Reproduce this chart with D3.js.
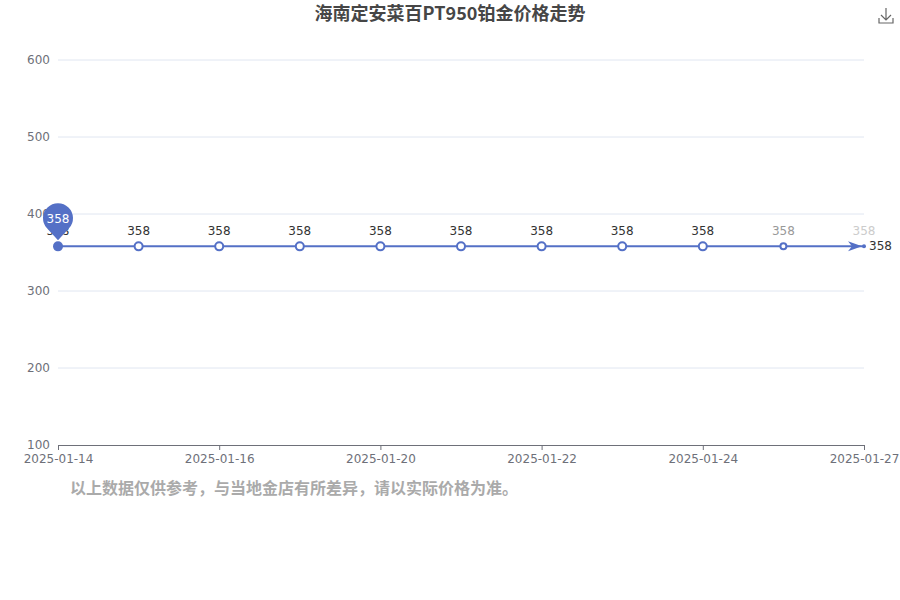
<!DOCTYPE html>
<html><head><meta charset="utf-8">
<script src="https://cdn.jsdelivr.net/npm/d3@7"></script>
<style>body{margin:0;background:#fff}svg{font-family:"Noto Sans CJK SC","DejaVu Sans",sans-serif}</style>
</head><body><div id="chart"></div>
<script>
const dates = ['2025-01-14','2025-01-15','2025-01-16','2025-01-17','2025-01-20','2025-01-21','2025-01-22','2025-01-23','2025-01-24','2025-01-26','2025-01-27']
const prices = [358,358,358,358,358,358,358,358,358,358,358]
const yTicks = [100,200,300,400,500,600]
const title = '海南定安菜百PT950铂金价格走势'
const note = '以上数据仅供参考，与当地金店有所差异，请以实际价格为准。'

const width = 900, height = 600
const blue = '#5470c6'
const mLeft = 58, mRight = 864, mTop = 60, mBottom = 445

const svg = d3.select('#chart').append('svg').attr('width', width).attr('height', height)

const x = d3.scalePoint().domain(dates).range([mLeft, mRight])
const y = d3.scaleLinear().domain([100, 600]).range([mBottom, mTop])

svg.append('text').attr('x', 450).attr('y', 20).attr('text-anchor', 'middle')
   .attr('font-size', 18).attr('font-weight', 'bold').attr('fill', '#464646').text(title)

// grid
svg.append('g').selectAll('line').data(yTicks.slice(1)).enter().append('line')
   .attr('x1', mLeft).attr('x2', mRight).attr('y1', d => y(d)).attr('y2', d => y(d))
   .attr('stroke', '#e0e6f1')

svg.append('g').selectAll('text').data(yTicks).enter().append('text')
   .attr('x', 50).attr('y', d => y(d) + 4).attr('text-anchor', 'end')
   .attr('font-size', 12).attr('fill', '#6e7079').attr('font-family', '"DejaVu Sans",sans-serif').text(d => d)

// x axis
const xAxis = d3.axisBottom(x).tickValues(dates.filter((d, i) => i % 2 === 0)).tickSize(5).tickPadding(4)
const gx = svg.append('g').attr('transform', `translate(0,${mBottom})`).call(xAxis)
gx.select('.domain').attr('stroke', '#6e7079')
gx.selectAll('line').attr('stroke', '#6e7079')
gx.selectAll('text').attr('fill', '#6e7079').attr('font-size', 12)
  .attr('font-family', '"DejaVu Sans",sans-serif')

// line
const line = d3.line().x((d, i) => x(dates[i])).y(d => y(d))
svg.append('path').attr('d', line(prices)).attr('fill', 'none').attr('stroke', blue).attr('stroke-width', 2)

// arrow at end
const ex = x(dates[dates.length - 1]), ey = y(prices[prices.length - 1])
svg.append('path').attr('d', `M${ex - 16},${ey - 5} L${ex - 2},${ey} L${ex - 16},${ey + 5} L${ex - 12},${ey} Z`).attr('fill', blue)

// points
svg.append('g').selectAll('circle').data(prices).enter().append('circle')
   .attr('cx', (d, i) => x(dates[i])).attr('cy', d => y(d))
   .attr('r', (d, i) => i === 0 ? 5 : i === prices.length - 1 ? 2 : i === prices.length - 2 ? 3 : 4)
   .attr('fill', (d, i) => i === 0 || i === prices.length - 1 ? blue : '#fff')
   .attr('stroke', blue).attr('stroke-width', (d, i) => i === 0 || i === prices.length - 1 ? 0 : 2)

svg.append('g').selectAll('text').data(prices).enter().append('text')
   .attr('x', (d, i) => x(dates[i])).attr('y', d => y(d) - 11).attr('text-anchor', 'middle')
   .attr('font-size', 12)
   .attr('fill', (d, i) => i === prices.length - 1 ? '#ccc' : i === prices.length - 2 ? '#999' : '#333')
   .attr('font-family', '"DejaVu Sans",sans-serif').text(d => d)

svg.append('text').attr('x', ex + 5).attr('y', ey + 4).attr('font-size', 12).attr('fill', '#333')
   .attr('font-family', '"DejaVu Sans",sans-serif').text(prices[prices.length - 1])

// pin marker at first point
const px = x(dates[0]), py = y(prices[0])
svg.append('path')
   .attr('d', `M${px},${py - 6} L${px - 11},${py - 18} A15,15 0 1 1 ${px + 11},${py - 18} Z`)
   .attr('fill', blue)
svg.append('text').attr('x', px).attr('y', py - 23).attr('text-anchor', 'middle')
   .attr('font-size', 12).attr('fill', '#fff').attr('font-family', '"DejaVu Sans",sans-serif').text(prices[0])

// download icon
svg.append('path').attr('d', 'M886,8 V20 M881,15 L886,20 L891,15 M879,18 V23 H893 V18')
   .attr('fill', 'none').attr('stroke', '#666').attr('stroke-width', 1.2)

svg.append('text').attr('x', 70).attr('y', 494).attr('font-size', 16).attr('font-weight', 'bold')
   .attr('fill', '#aaa').text(note)
</script></body></html>
